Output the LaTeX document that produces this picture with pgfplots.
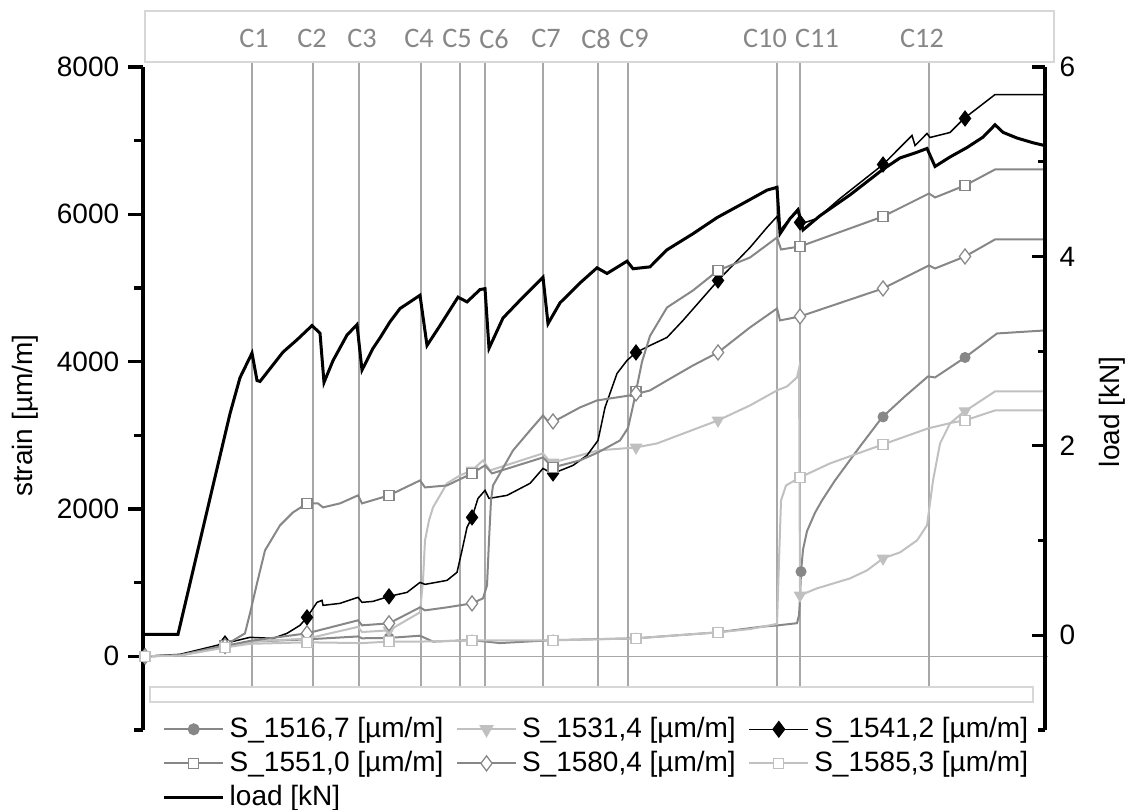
\documentclass[border=0pt]{standalone}
\usepackage{fontspec}
\setmainfont{Liberation Sans}
\newfontfamily\cfont{Carlito}
\usepackage{pgfplots}
\pgfplotsset{compat=1.18}
\definecolor{mgray}{RGB}{135,135,135}
\definecolor{lgray}{RGB}{192,192,192}
\definecolor{ggray}{RGB}{168,168,168}
\definecolor{bgray}{RGB}{215,215,215}
\newcommand{\fs}{\fontsize{11.2}{13}\selectfont}

\pgfplotsset{
  common/.style={
    scale only axis, width=360.8pt, height=265.2pt,
    xmin=143, xmax=1045, hide x axis,
    /pgf/number format/assume math mode=true,
    /pgf/number format/1000 sep={},
    scaled y ticks=false,
    axis line style={line width=1.4pt},
    every tick/.style={black, line width=1.3pt},
    ticklabel style={font=\fs},
  },
}
\tikzset{clab/.style={text=mgray, font=\cfont\fontsize{11.3}{13}\selectfont}}

\begin{document}
\begin{tikzpicture}
% strain axis
\begin{axis}[common,
  axis y line*=left, clip=false,
  ymin=-1000, ymax=8000,
  ytick={0,2000,4000,6000,8000}, minor ytick={-1000,1000,3000,5000,7000},
  tick align=outside, major tick length=6pt, minor tick length=3.6pt,
  every axis y label/.style={at={(axis description cs:-0.130,0.474)}, anchor=center, rotate=90, font=\fs},
  ylabel={strain [µm/m]},
  legend columns=3, legend cell align=left,
  legend style={draw=none, fill=none, font=\fs, at={(0.013,0.035)}, anchor=north west,
    /tikz/every even column/.append style={column sep=3pt}},
  legend image code/.code={\draw[mark repeat=2,mark phase=2,#1] plot coordinates {(0pt,0pt) (11.8pt,0pt) (23.6pt,0pt)};},
]
\coordinate (o) at (rel axis cs:0,0);
% boxes and event lines
\draw[bgray, line width=0.6pt, fill=white] (rel axis cs:0.002,1.0075) rectangle (rel axis cs:1.010,1.0845);
\draw[bgray, line width=0.6pt] (rel axis cs:0.0078,0.0422) rectangle (rel axis cs:0.9867,0.0649);
\draw[ggray, line width=0.6pt] (axis cs:143,0) -- (axis cs:1048,0);
\pgfplotsinvokeforeach{252,313,359,421,460,485,543,598,628,777,800,929}{
  \draw[ggray, line width=0.6pt] (axis cs:#1,-407) -- (axis cs:#1,8061);
}
\node[clab] at (axis cs:254,8386) {C1};
\node[clab] at (axis cs:312,8386) {C2};
\node[clab] at (axis cs:362,8386) {C3};
\node[clab] at (axis cs:419,8386) {C4};
\node[clab] at (axis cs:457,8386) {C5};
\node[clab] at (axis cs:494,8386) {C6};
\node[clab] at (axis cs:546,8386) {C7};
\node[clab] at (axis cs:596,8386) {C8};
\node[clab] at (axis cs:634,8386) {C9};
\node[clab] at (axis cs:765,8386) {C10};
\node[clab] at (axis cs:817,8386) {C11};
\node[clab] at (axis cs:922,8386) {C12};

% S_1516,7
\addplot[mgray, line width=0.8pt, mark=none,
  legend image post style={mark=*, mark size=2pt, mark options={fill=mgray, draw=mgray}}]
coordinates {(145,0) (180,15) (225,140) (250,200) (307,230) (358,270) (362,245) (389,250) (420,280) (433,200) (472,220) (500,180) (553,220) (636,245) (718,326) (733,353) (760,400) (778,421) (797,450) (799,560) (800,800) (801,1150) (803,1450) (807,1700) (815,1950) (822,2117) (835,2388) (860,2850) (882,3243) (905,3530) (928,3800) (935,3786) (965,4057) (997,4383) (1045,4424)};
\addlegendentry{S\_1516,7 [µm/m]}
\addplot[only marks, mark=*, mark size=2pt, mark options={fill=mgray, draw=mgray}, forget plot]
coordinates {(145,0) (225,140) (307,230) (389,250) (472,220) (553,220) (636,245) (718,326) (801,1150) (883,3250) (965,4057)};

% S_1531,4
\addplot[lgray, line width=0.8pt, mark=none,
  legend image post style={mark=triangle*, mark size=2.6pt, mark options={rotate=180, fill=lgray, draw=lgray}}]
coordinates {(145,0) (180,15) (225,130) (250,200) (307,240) (358,400) (362,330) (389,353) (420,597) (423,1031) (425,1574) (429,1846) (433,2022) (447,2348) (460,2456) (472,2524) (483,2660) (490,2524) (543,2755) (550,2640) (553,2633) (580,2728) (598,2795) (636,2836) (657,2890) (718,3203) (750,3406) (777,3610) (787,3664) (797,3786) (799,3908) (800,828) (817,923) (850,1058) (867,1167) (883,1330) (900,1411) (917,1574) (927,1778) (933,2388) (940,2890) (950,3162) (963,3311) (995,3596) (1045,3596)};
\addlegendentry{S\_1531,4 [µm/m]}
\addplot[only marks, mark=triangle*, mark size=2.6pt, mark options={rotate=180, fill=lgray, draw=lgray}, forget plot]
coordinates {(145,0) (225,130) (307,240) (389,353) (472,2524) (553,2633) (636,2836) (718,3203) (800,828) (883,1330) (965,3330)};

% S_1541,2
\addplot[black, line width=0.6pt, mark=none,
  legend image post style={mark=diamond*, mark size=3pt, mark options={fill=black, draw=black}}]
coordinates {(145,0) (180,27) (225,176) (250,258) (273,244) (287,312) (300,421) (307,529) (317,733) (322,760) (323,692) (340,719) (358,801) (362,733) (373,746) (389,814) (407,868) (420,1004) (425,977) (447,1031) (457,1140) (462,1438) (467,1751) (472,1886) (478,2144) (485,2253) (489,2144) (507,2185) (530,2348) (543,2551) (550,2497) (553,2483) (573,2592) (587,2728) (598,2931) (605,3379) (617,3840) (627,4017) (636,4125) (650,4220) (667,4329) (683,4560) (718,5102) (750,5550) (767,5822) (777,5971) (780,5781) (798,6079) (802,5876) (817,5944) (840,6215) (883,6676) (912,7070) (915,6934) (927,7097) (930,7043) (950,7111) (964,7301) (995,7626) (1045,7626)};
\addlegendentry{S\_1541,2 [µm/m]}
\addplot[only marks, mark=diamond*, mark size=3pt, mark options={fill=black, draw=black}, forget plot]
coordinates {(145,0) (225,176) (307,529) (389,814) (472,1886) (553,2483) (636,4125) (718,5102) (800,5890) (883,6676) (965,7301)};

% S_1551,0
\addplot[mgray, line width=0.8pt, mark=none,
  legend image post style={mark=square*, mark size=2pt, mark options={fill=white, draw=mgray, line width=0.5pt}}]
coordinates {(145,0) (180,15) (225,150) (245,312) (250,584) (257,991) (265,1438) (280,1778) (293,1954) (307,2076) (318,2076) (323,2022) (340,2076) (358,2185) (362,2076) (389,2185) (420,2388) (425,2293) (447,2320) (472,2483) (485,2592) (492,2483) (543,2700) (553,2565) (580,2660) (598,2768) (620,2931) (628,3100) (633,3400) (636,3600) (642,4000) (650,4350) (667,4736) (693,4967) (718,5238) (750,5414) (777,5686) (781,5523) (800,5564) (883,5971) (929,6283) (935,6229) (965,6392) (995,6609) (1045,6609)};
\addlegendentry{S\_1551,0 [µm/m]}
\addplot[only marks, mark=square*, mark size=2pt, mark options={fill=white, draw=mgray, line width=0.5pt}, forget plot]
coordinates {(145,0) (225,150) (307,2076) (389,2185) (472,2483) (553,2565) (636,3600) (718,5238) (800,5564) (883,5971) (965,6392)};

% S_1580,4
\addplot[mgray, line width=0.8pt, mark=none,
  legend image post style={mark=diamond*, mark size=3pt, mark options={fill=white, draw=mgray, line width=0.5pt}}]
coordinates {(145,0) (180,15) (225,140) (250,210) (307,312) (358,489) (362,421) (389,448) (420,665) (425,624) (447,665) (472,719) (483,787) (487,963) (489,1574) (491,2117) (493,2320) (513,2795) (530,3067) (543,3270) (548,3189) (554,3189) (580,3379) (597,3474) (630,3542) (650,3610) (667,3745) (693,3949) (718,4125) (750,4465) (777,4722) (780,4560) (800,4614) (883,4994) (929,5306) (935,5265) (965,5428) (995,5659) (1045,5659)};
\addlegendentry{S\_1580,4 [µm/m]}
\addplot[only marks, mark=diamond*, mark size=3pt, mark options={fill=white, draw=mgray, line width=0.5pt}, forget plot]
coordinates {(145,0) (225,140) (307,312) (389,448) (472,719) (553,3189) (636,3569) (718,4125) (800,4614) (883,4994) (965,5428)};

% S_1585,3
\addplot[lgray, line width=0.8pt, mark=none,
  legend image post style={mark=square*, mark size=2pt, mark options={fill=white, draw=lgray, line width=0.5pt}}]
coordinates {(145,0) (180,10) (225,120) (250,170) (307,190) (362,180) (389,200) (420,200) (472,217) (553,217) (636,244) (718,326) (750,370) (777,440) (779,1303) (781,2117) (786,2320) (800,2429) (830,2619) (883,2877) (928,3094) (953,3175) (965,3203) (995,3338) (1045,3338)};
\addlegendentry{S\_1585,3 [µm/m]}
\addplot[only marks, mark=square*, mark size=2pt, mark options={fill=white, draw=lgray, line width=0.5pt}, forget plot]
coordinates {(145,0) (225,120) (307,190) (389,200) (472,217) (553,217) (636,244) (718,326) (800,2429) (883,2877) (965,3203)};

\addlegendimage{black, line width=1.2pt}
\addlegendentry{load [kN]}
\end{axis}

% load axis
\begin{axis}[common,
  axis y line*=right,
  ymin=-1, ymax=6,
  ytick={0,2,4,6}, minor ytick={-1,1,3,5},
  tick align=inside, major tick length=5.2pt, minor tick length=2.8pt,
  yticklabel pos=right,
  yticklabel style={anchor=west, xshift=2.3pt},
  every axis y label/.style={at={(axis description cs:1.074,0.48)}, anchor=center, rotate=90, font=\fs},
  ylabel={load [kN]},
]
\addplot[black, line width=1.2pt, mark=none] coordinates {
(143,0.01) (178,0.01) (215,1.67) (230,2.34) (240,2.72) (252,2.98) (257,2.69) (260,2.68) (283,2.99) (297,3.12) (312,3.27) (320,3.19) (324,2.67) (333,2.90) (347,3.17) (357,3.28) (362,2.80) (373,3.03) (380,3.14) (390,3.31) (400,3.45) (420,3.59) (427,3.06) (440,3.27) (458,3.57) (467,3.52) (480,3.65) (485,3.66) (489,3.03) (503,3.35) (523,3.57) (543,3.78) (548,3.29) (560,3.51) (580,3.72) (597,3.88) (607,3.82) (627,3.95) (633,3.87) (650,3.89) (667,4.07) (693,4.24) (717,4.41) (743,4.56) (767,4.70) (777,4.73) (780,4.24) (790,4.40) (798,4.49) (803,4.28) (820,4.43) (850,4.65) (883,4.92) (900,5.04) (917,5.10) (927,5.14) (935,4.95) (950,5.05) (967,5.15) (983,5.26) (995,5.39) (1003,5.31) (1017,5.25) (1033,5.20) (1045,5.17)};
\end{axis}
\pgfresetboundingbox
\useasboundingbox ([shift={(-57.2pt,-31.6pt)}]o) rectangle ([shift={(394pt,292pt)}]o);
\end{tikzpicture}
\end{document}
